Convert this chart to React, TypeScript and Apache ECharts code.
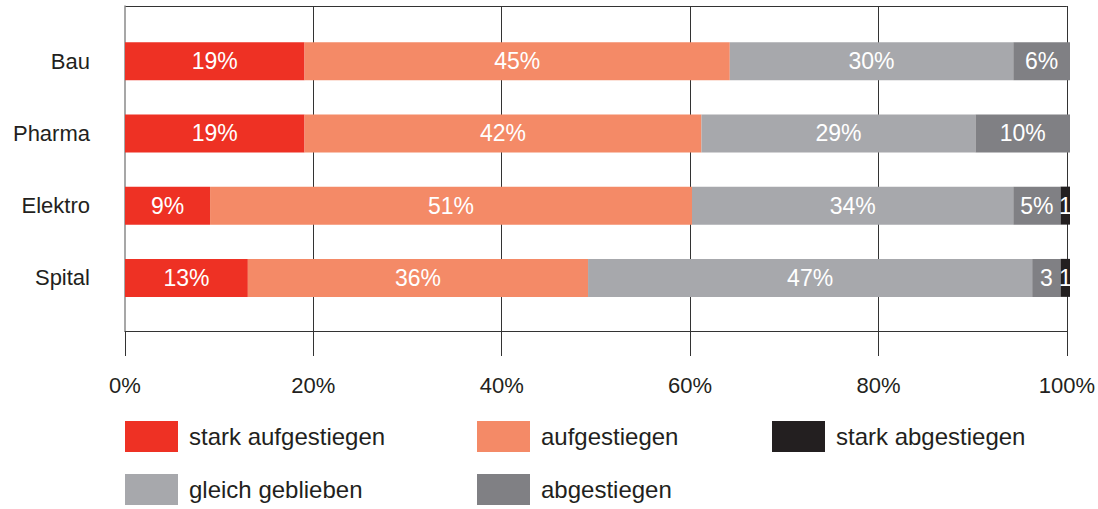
import React, { useEffect, useRef } from "react";
import * as echarts from "echarts";

const categories = ["Bau", "Pharma", "Elektro", "Spital"];
const seriesNames = ["stark aufgestiegen", "aufgestiegen", "gleich geblieben", "abgestiegen", "stark abgestiegen"];
const starkAufgestiegen = [19, 19, 9, 13];
const aufgestiegen = [45, 42, 51, 36];
const gleichGeblieben = [30, 29, 34, 47];
const abgestiegen = [6, 10, 5, 3];
const starkAbgestiegen = [0, 0, 1, 1];
const xTicks = [0, 20, 40, 60, 80, 100];

const colors = ["#EE3124", "#F48A67", "#A7A8AC", "#808084", "#231F20"];
const FONT = "'Liberation Sans', Arial, Helvetica, sans-serif";

export default function App() {
  const ref = useRef<HTMLDivElement>(null);
  useEffect(() => {
    if (!ref.current) return;
    const chart = echarts.init(ref.current, undefined, { renderer: "svg" });
    const dataSets = [starkAufgestiegen, aufgestiegen, gleichGeblieben, abgestiegen, starkAbgestiegen];
    const legendPos = [
      { left: 125, top: 421 },
      { left: 477, top: 421 },
      { left: 125, top: 474 },
      { left: 477, top: 474 },
      { left: 772, top: 421 },
    ];
    const option: any = {
      animation: false,
      textStyle: { fontFamily: FONT },
      grid: [
        { left: 125, right: 28, top: 25, bottom: 195 },
        { left: 125, right: 28, top: 6, bottom: 178 },
      ],
      xAxis: [
        { gridIndex: 0, type: "value", min: 0, max: 100, show: false },
        {
          gridIndex: 1,
          type: "value",
          min: 0,
          max: 100,
          interval: 20,
          axisLine: { show: true, lineStyle: { color: "#333", width: 1 } },
          axisTick: { show: true, length: 25, lineStyle: { color: "#333", width: 1 } },
          axisLabel: {
            margin: 43,
            fontSize: 22,
            color: "#231F20",
            fontFamily: FONT,
            formatter: (v: number) => (xTicks.includes(v) ? `${v}%` : ""),
          },
          splitLine: { show: true, showMinLine: false, lineStyle: { color: "#333", width: 1 } },
        },
      ],
      yAxis: [
        {
          gridIndex: 0,
          type: "category",
          inverse: true,
          data: categories,
          axisLine: { show: false },
          axisTick: { show: false },
          axisLabel: { margin: 35, fontSize: 22, color: "#231F20", fontFamily: FONT },
        },
        {
          gridIndex: 1,
          type: "value",
          min: 0,
          max: 1,
          interval: 1,
          axisLine: { show: true, lineStyle: { color: "#8a8a8a", width: 1.5 } },
          axisTick: { show: false },
          axisLabel: { show: false },
          splitLine: { show: true, showMinLine: false, lineStyle: { color: "#333", width: 1 } },
        },
      ],
      legend: seriesNames.map((n, i) => ({
        data: [n],
        left: legendPos[i].left,
        top: legendPos[i].top,
        padding: 0,
        icon: "rect",
        itemWidth: 53,
        itemHeight: 31,
        selectedMode: false,
        textStyle: { fontSize: 24, color: "#231F20", fontFamily: FONT, padding: [4, 0, 0, 6] },
      })),
      series: seriesNames.map((n, i) => ({
        name: n,
        type: "bar",
        stack: "total",
        xAxisIndex: 0,
        yAxisIndex: 0,
        barWidth: 38,
        data: dataSets[i],
        itemStyle: { color: colors[i] },
        label: {
          show: true,
          position: "inside",
          color: "#fff",
          fontSize: 23,
          fontFamily: FONT,
          formatter: (p: any) => (p.value === 0 ? "" : p.value >= 5 ? `${p.value}%` : `${p.value}`),
        },
      })),
    };
    chart.setOption(option);
    return () => chart.dispose();
  }, []);
  return <div ref={ref} style={{ position: "fixed", left: 0, top: 0, width: 1098, height: 509, background: "#fff" }} />;
}
